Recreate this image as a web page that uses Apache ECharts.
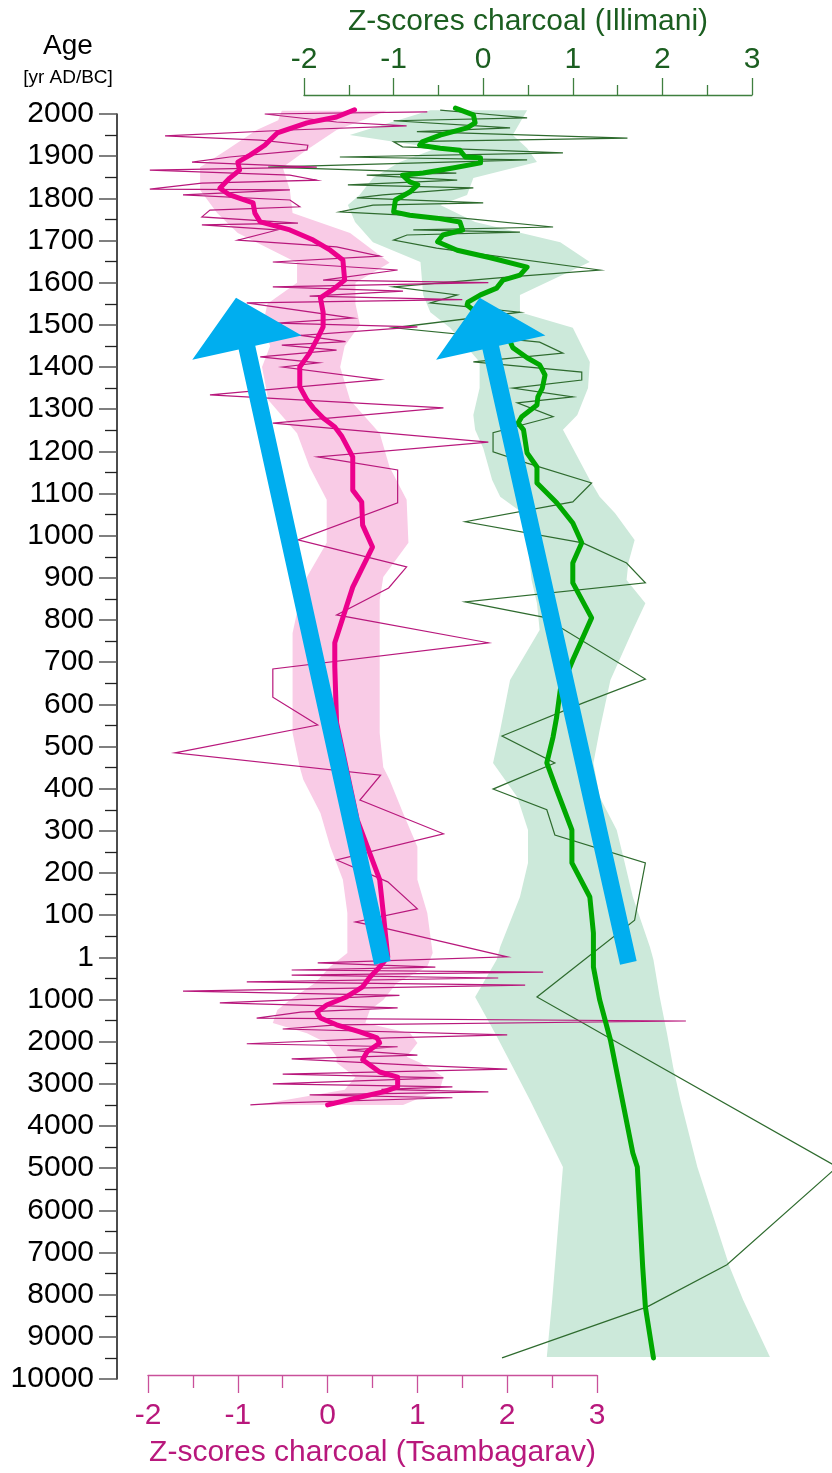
<!DOCTYPE html>
<html>
<head>
<meta charset="utf-8">
<title>Charcoal z-scores</title>
<script src="https://cdn.jsdelivr.net/npm/echarts@6/dist/echarts.min.js"></script>
<style>
  html, body { margin: 0; padding: 0; background: #fff; }
  #chart { width: 832px; height: 1473px; }
</style>
</head>
<body>
<div id="chart"></div>
<script>
// age axis: 2000 AD .. 1 AD in 100-yr steps, then 1000 .. 10000 BC in 1000-yr steps
var ageLabels = ['2000','1900','1800','1700','1600','1500','1400','1300','1200','1100','1000',
  '900','800','700','600','500','400','300','200','100','1',
  '1000','2000','3000','4000','5000','6000','7000','8000','9000','10000'];
var zTicks = [-2, -1, 0, 1, 2, 3];

// [age (AD > 0, BC < 0), z-score]
var tsaRaw = [[2005,1.11],[2000,-0.70],[1981,0.10],[1972,0.88],[1962,-0.42],[1948,-1.81],[1938,-0.75],
  [1926,-0.22],[1915,-0.23],[1898,-1.09],[1886,-1.51],[1874,-0.12],[1867,-1.98],[1855,-0.42],[1843,-0.12],
  [1836,-1.40],[1822,-1.98],[1820,-0.42],[1808,-1.61],[1796,-0.42],[1780,-0.31],[1772,-1.31],[1756,-1.40],
  [1741,-0.33],[1737,-1.40],[1725,-0.56],[1701,-1.00],[1685,0.10],[1663,0.58],[1649,-0.61],[1630,0.78],
  [1606,-0.05],[1600,1.79],[1590,-0.61],[1580,0.84],[1568,-0.20],[1560,1.50],[1552,-0.90],[1516,0.28],
  [1504,-0.56],[1495,1.00],[1475,-0.30],[1460,0.20],[1452,-0.51],[1440,0.10],[1424,-0.75],[1410,-0.10],
  [1400,-0.50],[1370,0.58],[1334,-1.31],[1303,1.29],[1267,-0.61],[1222,1.79],[1187,-0.11],[1156,0.78],
  [1078,0.78],[990,-0.33],[926,0.88],[876,0.68],[812,0.10],[746,1.79],[684,-0.61],[617,-0.61],[551,-0.11],
  [485,-1.70],[432,0.59],[373,0.36],[293,1.29],[231,0.10],[179,0.67],[115,1.00],[84,0.31],[70,0.62],[1,2.00],
  [-130,-0.11],[-230,1.20],[-300,-0.40],[-350,2.40],[-420,-0.40],[-490,1.90],[-580,-0.90],[-660,2.20],
  [-800,-1.61],[-900,0.80],[-1080,-1.20],[-1200,0.78],[-1300,-0.30],[-1440,-0.79],[-1510,3.99],[-1600,0.10],
  [-1700,-0.50],[-1840,2.00],[-1910,0.69],[-2050,-0.90],[-2120,0.78],[-2200,0.22],[-2320,1.00],[-2410,-0.40],
  [-2560,1.00],[-2650,2.00],[-2770,-0.50],[-2860,1.29],[-3000,-0.61],[-3070,1.39],[-3130,0.60],[-3190,1.79],
  [-3260,-0.20],[-3330,1.39],[-3450,-0.50],[-3500,-0.86]];

var tsaSmooth = [[2010,0.30],[1993,0.10],[1979,-0.23],[1955,-0.56],[1926,-0.70],[1903,-0.86],[1886,-1.00],
  [1867,-0.98],[1848,-1.09],[1824,-1.20],[1808,-1.09],[1789,-0.83],[1765,-0.81],[1744,-0.75],[1725,-0.42],
  [1701,-0.16],[1677,0.03],[1654,0.17],[1606,0.19],[1587,0.08],[1564,-0.08],[1530,-0.05],[1495,-0.05],
  [1469,-0.11],[1433,-0.20],[1400,-0.31],[1353,-0.31],[1322,-0.23],[1303,-0.16],[1279,-0.05],[1258,0.08],
  [1235,0.16],[1187,0.28],[1108,0.28],[1080,0.38],[1025,0.39],[973,0.50],[878,0.28],[746,0.08],[689,0.08],
  [556,0.10],[326,0.33],[184,0.58],[105,0.62],[1,0.67],[-230,0.58],[-470,0.47],[-700,0.39],[-940,0.21],
  [-1130,-0.01],[-1300,-0.12],[-1440,-0.08],[-1600,0.10],[-1770,0.36],[-1910,0.55],[-2030,0.58],[-2240,0.44],
  [-2430,0.39],[-2720,0.58],[-2840,0.78],[-3070,0.78],[-3190,0.62],[-3330,0.33],[-3500,0.00]];

// [age, lower, upper]
var tsaBand = [[2008,-0.51,0.66],[1985,-0.55,0.39],[1962,-0.79,0.10],[1915,-1.12,-0.23],[1874,-1.42,-0.50],
  [1820,-1.42,-0.42],[1765,-1.23,-0.39],[1718,-1.00,0.25],[1647,-0.34,0.69],[1600,-0.34,0.31],[1550,-0.67,0.31],
  [1500,-0.72,0.36],[1450,-0.64,0.19],[1400,-0.73,0.14],[1322,-0.66,0.25],[1243,-0.34,0.58],[1163,-0.20,0.69],
  [1085,-0.01,0.88],[983,-0.01,0.90],[902,-0.23,0.62],[848,-0.31,0.58],[769,-0.39,0.58],[532,-0.39,0.58],
  [451,-0.31,0.62],[421,-0.27,0.69],[342,-0.08,0.84],[262,0.03,1.00],[184,0.17,1.00],[105,0.22,1.11],
  [10,0.22,1.17],[-220,0.03,1.11],[-610,-0.14,0.77],[-1010,-0.42,0.62],[-1250,-0.56,0.47],[-1560,-0.61,0.42],
  [-1800,-0.23,0.92],[-2030,-0.01,1.00],[-2360,0.10,0.88],[-2500,0.10,1.03],[-2840,0.31,1.29],[-3140,0.19,1.25],
  [-3500,-0.79,0.84]];

var illRaw = [[2009,-0.48],[2003,-0.15],[1991,0.49],[1984,-1.00],[1967,0.30],[1958,-0.74],[1943,1.61],
  [1934,-1.00],[1922,-0.90],[1908,0.89],[1898,-1.60],[1891,0.49],[1874,-2.40],[1860,-0.30],[1855,-1.30],
  [1843,-0.29],[1832,-1.51],[1825,-0.11],[1808,-1.12],[1801,-1.41],[1789,0.00],[1784,-1.23],[1768,-1.60],
  [1753,-0.23],[1732,0.78],[1725,-0.78],[1720,0.41],[1713,-0.85],[1701,-1.00],[1682,-0.52],[1630,1.30],
  [1613,0.27],[1590,-1.00],[1571,-0.29],[1552,-0.59],[1530,0.41],[1493,-1.00],[1459,0.63],[1433,0.89],
  [1412,-0.11],[1388,1.10],[1369,1.10],[1350,0.33],[1329,1.00],[1315,0.38],[1282,0.78],[1244,0.11],
  [1199,0.11],[1172,0.49],[1125,1.21],[1080,1.00],[1033,-0.20],[983,1.11],[935,1.60],[888,1.81],[843,-0.20],
  [807,0.67],[660,1.81],[603,1.11],[525,0.21],[461,0.80],[399,0.11],[350,0.71],[290,0.80],[224,1.81],
  [124,1.72],[88,1.69],[-940,0.60],[-4970,3.95],[-7290,2.72],[-8290,1.83],[-9500,0.21]];

var illSmooth = [[2014,-0.31],[1998,-0.11],[1979,-0.09],[1967,-0.18],[1950,-0.48],[1934,-0.68],[1926,-0.71],
  [1919,-0.48],[1914,-0.26],[1898,-0.20],[1896,-0.03],[1884,-0.03],[1872,-0.34],[1860,-0.67],[1855,-0.90],
  [1839,-0.82],[1832,-0.73],[1815,-0.82],[1796,-0.98],[1768,-1.00],[1760,-0.82],[1753,-0.52],[1744,-0.26],
  [1725,-0.23],[1713,-0.45],[1697,-0.51],[1677,-0.29],[1659,0.08],[1637,0.49],[1618,0.41],[1606,0.22],
  [1587,0.15],[1571,-0.03],[1554,-0.17],[1547,-0.18],[1535,-0.11],[1507,0.00],[1476,0.27],[1446,0.33],
  [1422,0.49],[1405,0.63],[1381,0.69],[1350,0.66],[1329,0.61],[1310,0.60],[1282,0.43],[1267,0.39],
  [1251,0.45],[1196,0.49],[1163,0.60],[1125,0.60],[1078,0.82],[1030,1.00],[983,1.10],[935,1.00],[888,1.00],
  [805,1.21],[705,1.00],[634,0.86],[570,0.82],[523,0.78],[461,0.71],[397,0.82],[302,0.99],[224,0.99],
  [143,1.19],[58,1.23],[-230,1.23],[-1010,1.30],[-1960,1.42],[-4640,1.67],[-4970,1.72],[-7340,1.78],
  [-8290,1.81],[-9500,1.90]];

var illBand = [[2009,-0.59,0.49],[1950,-1.49,0.33],[1919,-0.52,0.49],[1886,-0.93,0.60],[1848,-1.23,-0.11],
  [1808,-1.38,-0.18],[1784,-1.51,-0.48],[1744,-1.43,-0.09],[1696,-1.23,0.86],[1649,-0.70,1.19],[1571,-0.67,0.41],
  [1530,-0.59,0.41],[1493,-0.37,1.00],[1412,-0.04,1.19],[1350,-0.04,1.17],[1286,-0.11,1.05],[1251,-0.09,0.89],
  [1208,0.00,1.00],[1132,0.10,1.19],[1092,0.19,1.30],[1054,0.44,1.47],[990,0.50,1.69],[935,0.52,1.62],
  [895,0.54,1.60],[840,0.60,1.81],[776,0.63,1.67],[658,0.30,1.42],[539,0.19,1.30],[461,0.11,1.23],
  [380,0.38,1.30],[302,0.50,1.49],[224,0.50,1.58],[143,0.41,1.67],[25,0.19,1.86],[-60,0.15,1.90],
  [-940,-0.09,1.97],[-1790,0.13,2.05],[-2600,0.33,2.12],[-3380,0.52,2.20],[-4970,0.89,2.39],[-7340,0.80,2.75],
  [-8120,0.77,2.90],[-9480,0.71,3.20]];

// trend arrows: [tail, tip] as [age, z]
var tsaArrow = [[-130,0.61],[1564,-1.02]];
var illArrow = [[-130,1.62],[1564,-0.04]];

var FONT = 'Liberation Sans, Arial, sans-serif';

// piecewise age scale: 100 yr per step AD, 1000 yr per step BC
function toIdx(age) {
  return age > 0 ? (2000 - age) / 100 : 20 - age / 1000;
}
function pts(rows) {
  return rows.map(function (r) { return [r[1], toIdx(r[0])]; });
}

function bandSeries(rows, axis, color) {
  return {
    type: 'custom', xAxisIndex: axis, yAxisIndex: axis, z: 1, silent: true,
    data: rows.map(function (r) { return [r[1], toIdx(r[0]), r[2]]; }),
    encode: { x: [0, 2], y: 1 },
    renderItem: function (params, api) {
      if (params.dataIndex !== 0) return null;
      var left = rows.map(function (r) { return api.coord([r[1], toIdx(r[0])]); });
      var right = rows.slice().reverse().map(function (r) { return api.coord([r[2], toIdx(r[0])]); });
      return { type: 'polygon', shape: { points: left.concat(right) }, style: { fill: color } };
    }
  };
}

// thin raw record, drawn as one polyline so spikes may run past the axis ends
function rawSeries(rows, axis, color, z) {
  return {
    type: 'custom', xAxisIndex: axis, yAxisIndex: axis, z: z, silent: true,
    data: pts(rows),
    encode: { x: 0, y: 1 },
    renderItem: function (params, api) {
      if (params.dataIndex !== 0) return null;
      var p = pts(rows).map(function (d) { return api.coord(d); });
      return { type: 'polyline', shape: { points: p },
        style: { stroke: color, lineWidth: 1.2, fill: null, lineJoin: 'miter' } };
    }
  };
}

function arrowSeries(arr, axis) {
  return {
    type: 'custom', xAxisIndex: axis, yAxisIndex: axis, z: 10, silent: true,
    data: [[arr[0][1], toIdx(arr[0][0]), arr[1][1], toIdx(arr[1][0])]],
    encode: { x: [0, 2], y: [1, 3] },
    renderItem: function (params, api) {
      var a = api.coord([api.value(0), api.value(1)]);
      var b = api.coord([api.value(2), api.value(3)]);
      var dx = b[0] - a[0], dy = b[1] - a[1];
      var len = Math.sqrt(dx * dx + dy * dy);
      var ux = dx / len, uy = dy / len, px = -uy, py = ux;
      var headLen = 51, headHalf = 56, w = 8.5;
      var bx = b[0] - ux * headLen, by = b[1] - uy * headLen;
      return {
        type: 'polygon',
        shape: { points: [
          [a[0] + px * w, a[1] + py * w], [bx + px * w, by + py * w],
          [bx + px * headHalf, by + py * headHalf], b,
          [bx - px * headHalf, by - py * headHalf],
          [bx - px * w, by - py * w], [a[0] - px * w, a[1] - py * w]
        ] },
        style: { fill: '#00aeef' }
      };
    }
  };
}

function lineSeries(rows, axis, color, width, z) {
  return {
    type: 'line', xAxisIndex: axis, yAxisIndex: axis, data: pts(rows),
    symbol: 'none', showSymbol: false, clip: false, silent: true, z: z,
    lineStyle: { color: color, width: width, join: 'round', cap: 'round' }
  };
}

function zAxis(grid, pos, offset, lineColor, textColor, name, labelMargin, nameGap, tickLen, minorLen) {
  return {
    gridIndex: grid, type: 'value', position: pos, offset: offset,
    min: zTicks[0], max: zTicks[zTicks.length - 1], interval: 1,
    axisLine: { show: true, onZero: false, lineStyle: { color: lineColor, width: 1.3 } },
    axisTick: { show: true, length: tickLen, lineStyle: { color: lineColor, width: 1.3 } },
    minorTick: { show: true, splitNumber: 2, length: minorLen, lineStyle: { color: lineColor, width: 1.3 } },
    splitLine: { show: false }, minorSplitLine: { show: false },
    axisLabel: { color: textColor, fontSize: 30, fontFamily: FONT, margin: labelMargin,
      showMinLabel: true, showMaxLabel: true, hideOverlap: false },
    name: name, nameLocation: 'middle', nameGap: nameGap,
    nameTextStyle: { color: textColor, fontSize: 30, fontFamily: FONT }
  };
}

var chart = echarts.init(document.getElementById('chart'));
var option = {
  animation: false,
  backgroundColor: '#fff',
  textStyle: { fontFamily: FONT },
  grid: [
    { left: 148, top: 114, width: 449, height: 1265 },
    { left: 304, top: 114, width: 448, height: 1265 }
  ],
  xAxis: [
    zAxis(0, 'bottom', -4, '#c9509a', '#b8187c', 'Z-scores charcoal (Tsambagarav)', 26, 63, 18, 13),
    zAxis(1, 'top', 19, '#3f7f3f', '#1b5e20', 'Z-scores charcoal (Illimani)', 20, 58, 17, 10)
  ],
  yAxis: [
    {
      gridIndex: 0, type: 'value', position: 'left', inverse: true, min: 0, max: 30, interval: 1, offset: 31,
      axisLine: { show: true, onZero: false, lineStyle: { color: '#111', width: 1.5 } },
      axisTick: { show: true, length: 18, lineStyle: { color: '#555', width: 1.5 } },
      minorTick: { show: true, splitNumber: 2, length: 12, lineStyle: { color: '#222', width: 1.3 } },
      splitLine: { show: false }, minorSplitLine: { show: false },
      axisLabel: {
        color: '#000', fontSize: 30, fontFamily: FONT, margin: 23,
        showMinLabel: true, showMaxLabel: true, hideOverlap: false,
        formatter: function (v) { return ageLabels[Math.round(v)]; }
      }
    },
    { gridIndex: 1, type: 'value', inverse: true, min: 0, max: 30, interval: 1, show: false }
  ],
  graphic: [
    { type: 'text', x: 68, y: 46, style: { text: 'Age', font: '28px ' + FONT, fill: '#000', align: 'center', verticalAlign: 'middle' } },
    { type: 'text', x: 68, y: 78, style: { text: '[yr AD/BC]', font: '19px ' + FONT, fill: '#000', align: 'center', verticalAlign: 'middle' } }
  ],
  series: [
    bandSeries(tsaBand, 0, '#f9cbe6'),
    bandSeries(illBand, 1, '#cce9da'),
    rawSeries(illRaw, 1, '#2e6b2e', 3),
    rawSeries(tsaRaw, 0, '#b8187c', 4),
    lineSeries(tsaSmooth, 0, '#ec008c', 5, 6),
    lineSeries(illSmooth, 1, '#00a800', 5, 6),
    arrowSeries(tsaArrow, 0),
    arrowSeries(illArrow, 1)
  ]
};
chart.setOption(option);
window.addEventListener('resize', function () { chart.resize(); });
</script>
</body>
</html>
